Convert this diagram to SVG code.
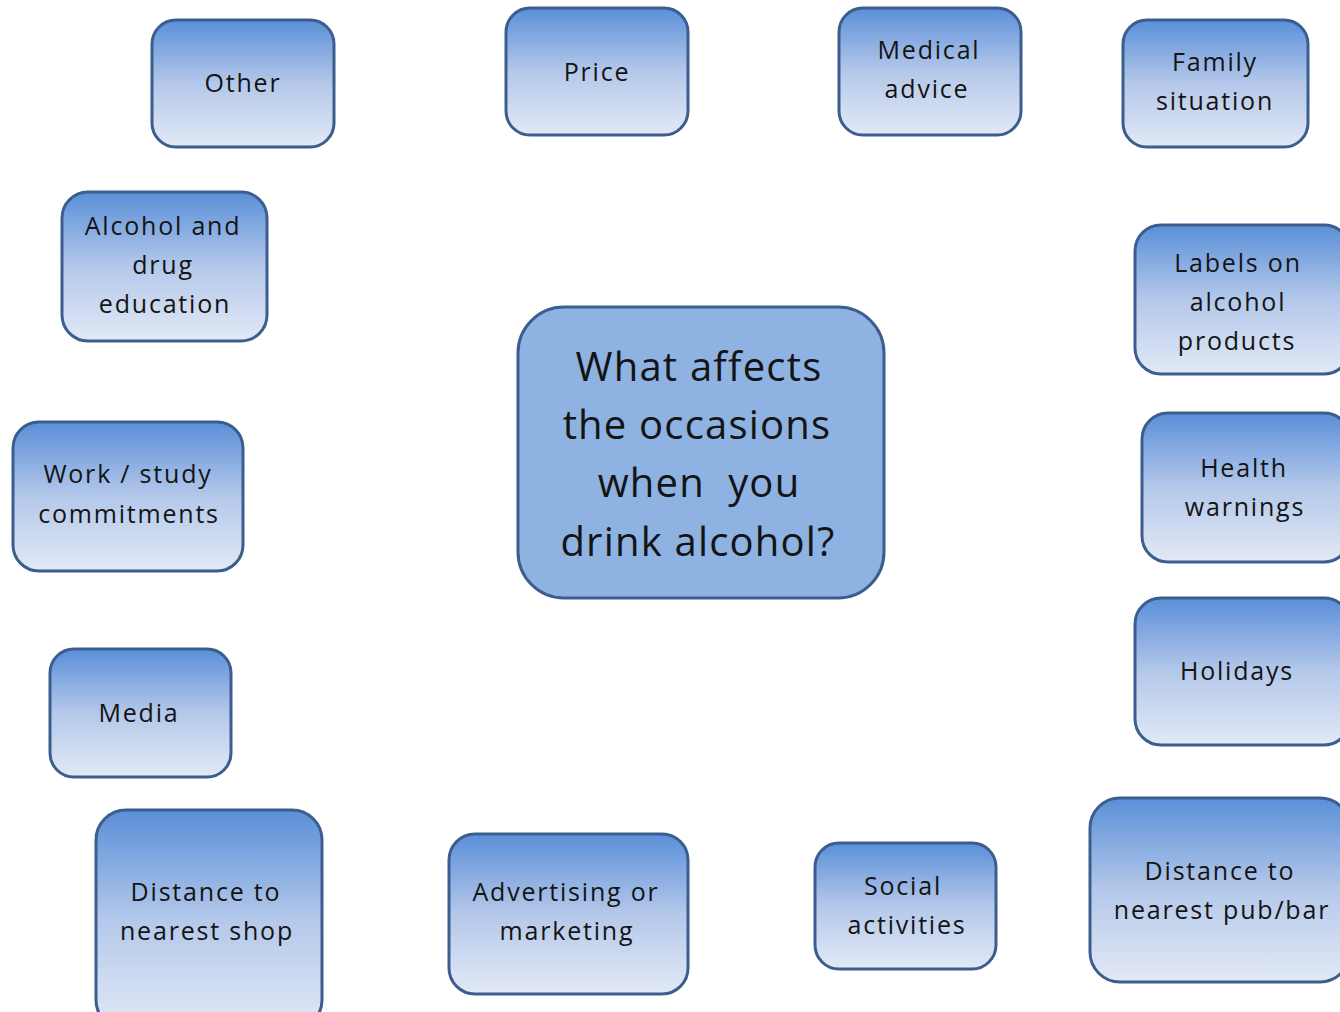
<svg xmlns="http://www.w3.org/2000/svg" width="1340" height="1012" viewBox="0 0 1340 1012">
<defs>
<linearGradient id="g" x1="0" y1="0" x2="0" y2="1">
<stop offset="0" stop-color="#5a8fd8"/>
<stop offset="0.5" stop-color="#b4c8ea"/>
<stop offset="1" stop-color="#e2e9f6"/>
</linearGradient>
<style>
.n{fill:url(#g);stroke:#3c5e8e;stroke-width:3}
.c{fill:#8eb2e2;stroke:#3c5e8e;stroke-width:3}
text{font-family:"Open Sans","Liberation Sans",sans-serif;font-size:25px;fill:#141414;text-anchor:middle;letter-spacing:1.8px;white-space:pre}
.ct{font-size:40px;letter-spacing:1.2px}
</style>
</defs>
<rect width="1340" height="1012" fill="#ffffff"/>
<g id="connectors"></g>
<g id="n-other"><rect class="n" x="152" y="20" width="182" height="127" rx="24"/><text x="243" y="92">Other</text></g>
<g id="n-price"><rect class="n" x="506" y="8" width="182" height="127" rx="24"/><text x="597" y="81">Price</text></g>
<g id="n-medical"><rect class="n" x="839" y="8" width="182" height="127" rx="24"/><text x="929" y="59">Medical</text><text x="927" y="98">advice</text></g>
<g id="n-family"><rect class="n" x="1123" y="20" width="185" height="127" rx="24"/><text x="1215" y="71">Family</text><text x="1215" y="110">situation</text></g>
<g id="n-education"><rect class="n" x="62" y="192" width="205" height="149" rx="26"/><text x="163" y="235">Alcohol and</text><text x="163" y="274">drug</text><text x="165" y="313">education</text></g>
<g id="n-labels"><rect class="n" x="1135" y="225" width="215" height="149" rx="26"/><text x="1238" y="272">Labels on</text><text x="1238" y="311">alcohol</text><text x="1237" y="350">products</text></g>
<g id="n-center"><rect class="c" x="518" y="307" width="366" height="291" rx="46"/><text class="ct" x="699" y="381">What affects</text><text class="ct" x="697" y="439">the occasions</text><text class="ct" x="699" y="497" xml:space="preserve">when  you</text><text class="ct" x="698" y="556">drink alcohol?</text></g>
<g id="n-work"><rect class="n" x="13" y="422" width="230" height="149" rx="26"/><text x="128" y="483">Work / study</text><text x="129" y="523">commitments</text></g>
<g id="n-health"><rect class="n" x="1142" y="413" width="208" height="149" rx="26"/><text x="1244" y="477">Health</text><text x="1245" y="516">warnings</text></g>
<g id="n-holidays"><rect class="n" x="1135" y="598" width="215" height="147" rx="26"/><text x="1237" y="680">Holidays</text></g>
<g id="n-media"><rect class="n" x="50" y="649" width="181" height="128" rx="24"/><text x="139" y="722">Media</text></g>
<g id="n-shop"><rect class="n" x="96" y="810" width="226" height="220" rx="30"/><text x="206" y="901">Distance to</text><text x="207" y="940">nearest shop</text></g>
<g id="n-advertising"><rect class="n" x="449" y="834" width="239" height="160" rx="26"/><text x="566" y="901">Advertising or</text><text x="567" y="940">marketing</text></g>
<g id="n-social"><rect class="n" x="815" y="843" width="181" height="126" rx="24"/><text x="903" y="895">Social</text><text x="907" y="934">activities</text></g>
<g id="n-pub"><rect class="n" x="1090" y="798" width="260" height="184" rx="30"/><text x="1220" y="880">Distance to</text><text x="1222" y="919">nearest pub/bar</text></g>
</svg>
